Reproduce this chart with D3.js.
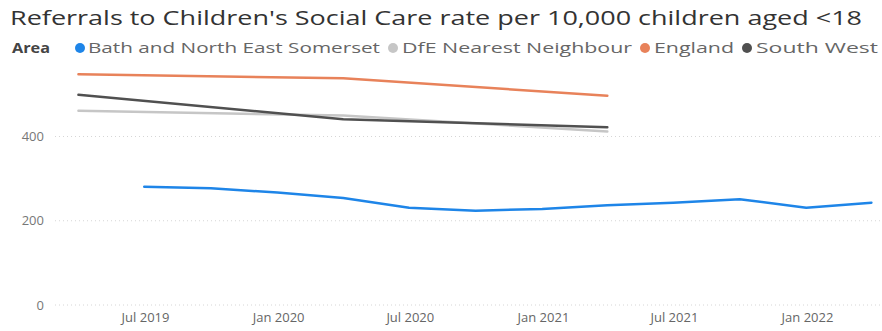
<!DOCTYPE html>
<html><head><meta charset="utf-8">
<script src="https://cdn.jsdelivr.net/npm/d3@7"></script>
<style>body{margin:0;background:#fff;}svg{display:block;font-family:"Open Sans","Noto Sans",sans-serif;}</style>
</head><body><svg id="c" width="882" height="331"></svg>
<script>
// Data
const annualDates = ["2019-03-31","2020-03-31","2021-03-31"];
const quarterDates = ["2019-06-30","2019-09-30","2019-12-31","2020-03-31","2020-06-30","2020-09-30","2020-12-31","2021-03-31","2021-06-30","2021-09-30","2021-12-31","2022-03-31"];
const banesValues = [281,277,267,254,231,224,228,237,243,251,231,243];
const nearestNeighbourValues = [461,450,412];
const englandValues = [548,538,497];
const southWestValues = [499,441,422];
const seriesNames = ["Bath and North East Somerset","DfE Nearest Neighbour","England","South West"];
const yTicks = [0,200,400];
const xTickDates = ["2019-07-01","2020-01-01","2020-07-01","2021-01-01","2021-07-01","2022-01-01"];
const xTickLabels = ["Jul 2019","Jan 2020","Jul 2020","Jan 2021","Jul 2021","Jan 2022"];

const colors = {"Bath and North East Somerset":"#1E85E8","DfE Nearest Neighbour":"#C6C6C6","England":"#E8825A","South West":"#505050"};
const parse = d3.utcParse("%Y-%m-%d");

const svg = d3.select("#c");
const x = d3.scaleUtc().domain([parse("2019-07-01"), parse("2022-01-01")]).range([145, 807]);
const y = d3.scaleLinear().domain([0, 400]).range([305, 136.5]);

// title
svg.append("text").attr("x",10).attr("y",25).attr("font-size",20).attr("fill","#333")
  .attr("textLength",852).attr("lengthAdjust","spacingAndGlyphs")
  .text("Referrals to Children's Social Care rate per 10,000 children aged <18");

// legend
const lg = svg.append("g");
lg.append("text").attr("x",12).attr("y",53).attr("font-size",14).attr("font-weight","bold").attr("fill","#444")
  .attr("textLength",38).attr("lengthAdjust","spacingAndGlyphs").text("Area");
const legendLayout = [
  {dot:80, tx:88, len:292},
  {dot:393, tx:402, len:230},
  {dot:645, tx:654, len:80},
  {dot:747, tx:756, len:122}
];
seriesNames.forEach((n,i)=>{
  const L = legendLayout[i];
  lg.append("circle").attr("cx",L.dot).attr("cy",48).attr("r",5).attr("fill",colors[n]);
  lg.append("text").attr("x",L.tx).attr("y",53).attr("font-size",15).attr("fill","#666")
    .attr("textLength",L.len).attr("lengthAdjust","spacingAndGlyphs").text(n);
});

// grid & y axis
const yAxis = d3.axisLeft(y).tickValues(yTicks).tickSize(0).tickPadding(0);
const yg = svg.append("g").attr("transform","translate(44,0)").call(yAxis);
yg.select(".domain").remove();
yg.selectAll("text").attr("font-size",13).attr("fill","#777").attr("font-family","Open Sans, sans-serif");
svg.append("g").selectAll("line").data(yTicks).join("line")
  .attr("x1",55).attr("x2",882).attr("y1",d=>y(d)).attr("y2",d=>y(d))
  .attr("stroke","#d6d6d6").attr("stroke-width",1).attr("stroke-dasharray","1,3");

// x axis
const xAxis = d3.axisBottom(x).tickValues(xTickDates.map(parse)).tickSize(0).tickPadding(0)
  .tickFormat((d,i)=>xTickLabels[i]);
const xg = svg.append("g").attr("transform","translate(0,313)").call(xAxis);
xg.select(".domain").remove();
xg.selectAll("text").attr("font-size",13).attr("fill","#666").attr("font-family","Open Sans, sans-serif");

// lines
const line = d3.line().x(d=>x(d.date)).y(d=>y(d.value));
const series = [
  {name:"DfE Nearest Neighbour", dates:annualDates, values:nearestNeighbourValues},
  {name:"South West", dates:annualDates, values:southWestValues},
  {name:"England", dates:annualDates, values:englandValues},
  {name:"Bath and North East Somerset", dates:quarterDates, values:banesValues}
];
series.forEach(s=>{
  const pts = s.values.map((v,i)=>({date:parse(s.dates[i]), value:v}));
  svg.append("path").datum(pts).attr("d",line).attr("fill","none")
    .attr("stroke",colors[s.name]).attr("stroke-width",2.5).attr("stroke-linejoin","round").attr("stroke-linecap","round");
});
</script></body></html>
